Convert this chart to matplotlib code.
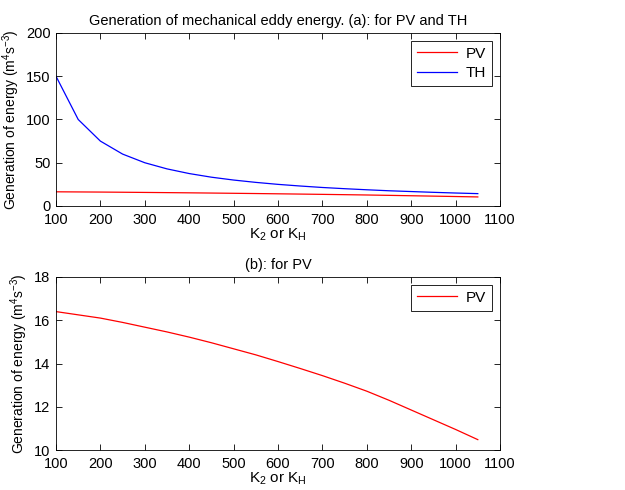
import matplotlib
matplotlib.use("Agg")
import matplotlib.pyplot as plt

plt.rcParams['font.family'] = ['Liberation Sans', 'DejaVu Sans']
plt.rcParams['mathtext.fontset'] = 'custom'
plt.rcParams['mathtext.rm'] = 'Liberation Sans'
plt.rcParams['mathtext.it'] = 'Liberation Sans'
plt.rcParams['font.size'] = 11

K = [100, 150, 200, 250, 300, 350, 400, 450, 500, 550,
     600, 650, 700, 750, 800, 850, 900, 950, 1000, 1050]
PV = [16.40, 16.25, 16.10, 15.90, 15.68, 15.46, 15.22, 14.96, 14.68, 14.40,
      14.09, 13.77, 13.44, 13.09, 12.72, 12.30, 11.85, 11.40, 10.95, 10.48]
TH = [150.0, 100.0, 75.0, 60.0, 50.0, 42.9, 37.5, 33.3, 30.0, 27.3,
      25.0, 23.1, 21.4, 20.0, 18.75, 17.6, 16.7, 15.8, 15.0, 14.3]

xticks = [100, 200, 300, 400, 500, 600, 700, 800, 900, 1000, 1100]
ylab = r'Generation of energy (m$^4$s$^{-3}$)'
xlab = r'K$_2$ or K$_H$'

fig = plt.figure(figsize=(6.25, 4.9), dpi=100)
ax1 = fig.add_axes([0.0896, 0.5796, 0.7104, 0.3531])
ax2 = fig.add_axes([0.0896, 0.0816, 0.7104, 0.3531])

def style(ax):
    ax.tick_params(direction='in', top=True, right=True, length=4, width=0.6, labelsize=10.5)
    ax.tick_params(axis='x', pad=5)
    ax.tick_params(axis='y', pad=4)
    for s in ax.spines.values():
        s.set_linewidth(0.6)
    ax.set_xlim(100, 1100)
    ax.set_xticks(xticks)

ax1.plot(K, PV, color='red', lw=0.9, label='PV')
ax1.plot(K, TH, color='blue', lw=0.9, label='TH')
style(ax1)
ax1.set_ylim(0, 200)
ax1.set_yticks([0, 50, 100, 150, 200])
ax1.set_title('Generation of mechanical eddy energy. (a): for PV and TH', fontsize=10.5, pad=6)
ax1.set_ylabel(ylab, fontsize=10)
ax1.yaxis.set_label_coords(-0.076, 0.5)
ax1.set_xlabel(xlab, labelpad=0)
leg = ax1.legend(loc='upper right', fancybox=False, edgecolor='black', framealpha=1,
                 handlelength=2.6, handletextpad=0.6, borderaxespad=0.5, fontsize=11,
                 labelspacing=0.35)
leg.get_frame().set_linewidth(0.6)

ax2.plot(K, PV, color='red', lw=0.9, label='PV')
style(ax2)
ax2.set_ylim(10, 18)
ax2.set_yticks([10, 12, 14, 16, 18])
ax2.set_title('(b): for PV', fontsize=10.5, pad=6)
ax2.set_ylabel(ylab, fontsize=10)
ax2.yaxis.set_label_coords(-0.058, 0.5)
ax2.set_xlabel(xlab, labelpad=0)
leg2 = ax2.legend(loc='upper right', fancybox=False, edgecolor='black', framealpha=1,
                  handlelength=2.6, handletextpad=0.6, borderaxespad=0.5, fontsize=11)
leg2.get_frame().set_linewidth(0.6)

fig.savefig('out.png', dpi=100)
